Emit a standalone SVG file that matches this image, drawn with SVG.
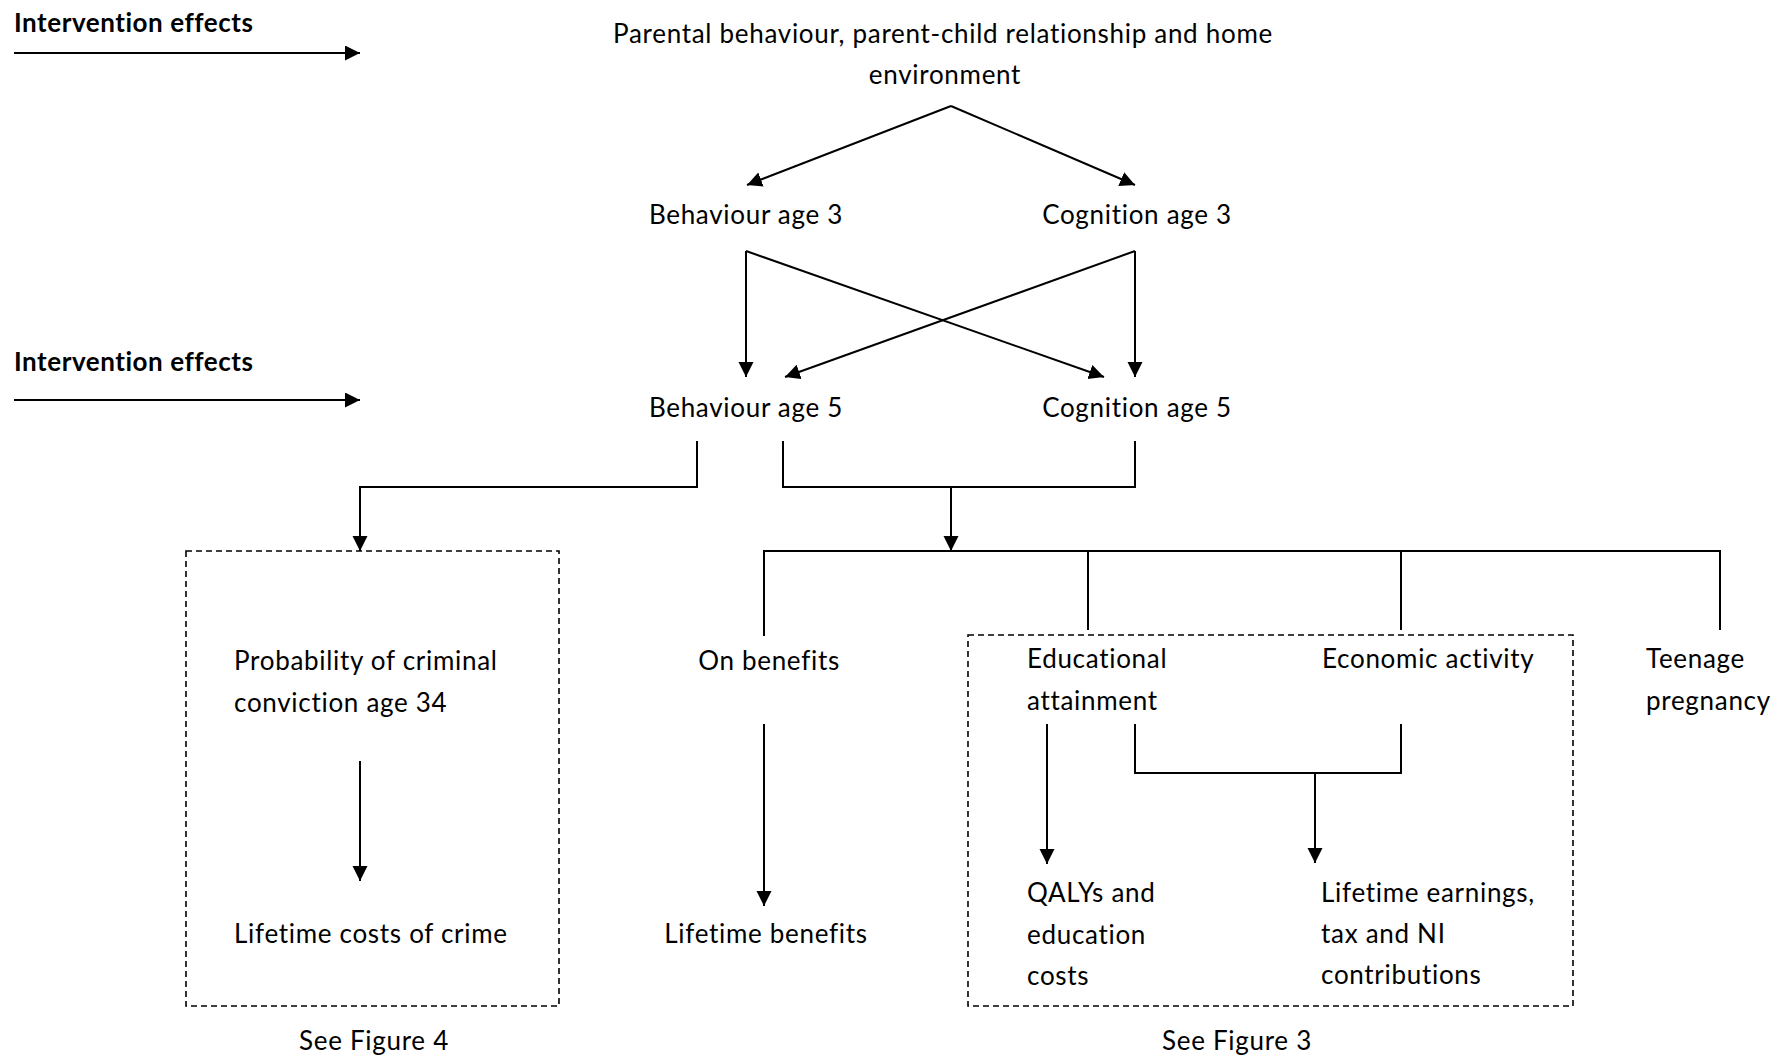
<svg xmlns="http://www.w3.org/2000/svg" width="1775" height="1058" viewBox="0 0 1775 1058">
<style>
  text { font-family: Lato, "Open Sans", "Liberation Sans", sans-serif; font-size: 26px; letter-spacing: 0.7px; fill: #000; }
  .b { font-weight: bold; letter-spacing: 0.55px; }
  .m { text-anchor: middle; }
  .ln { stroke: #000; stroke-width: 2; fill: none; }
  .dash { stroke: #000; stroke-width: 1.6; fill: none; stroke-dasharray: 6 4; }
</style>
<defs>
  <marker id="ah" markerUnits="userSpaceOnUse" markerWidth="16" markerHeight="16" refX="15" refY="7.5" orient="auto">
    <path d="M0,0 L15,7.5 L0,15 Z" fill="#000"/>
  </marker>
</defs>
<rect width="1775" height="1058" fill="#fff"/>

<g id="connectors">
  <line class="ln" x1="14" y1="53" x2="360" y2="53" marker-end="url(#ah)"/>
  <line class="ln" x1="14" y1="400" x2="360" y2="400" marker-end="url(#ah)"/>
  <line class="ln" x1="951" y1="106" x2="747" y2="185" marker-end="url(#ah)"/>
  <line class="ln" x1="951" y1="106" x2="1135" y2="185" marker-end="url(#ah)"/>
  <line class="ln" x1="746" y1="251" x2="746" y2="377" marker-end="url(#ah)"/>
  <line class="ln" x1="746" y1="251" x2="1104" y2="377" marker-end="url(#ah)"/>
  <line class="ln" x1="1135" y1="251" x2="1135" y2="377" marker-end="url(#ah)"/>
  <line class="ln" x1="1135" y1="251" x2="785" y2="377" marker-end="url(#ah)"/>
  <polyline class="ln" points="697,441 697,487 360,487 360,551" marker-end="url(#ah)"/>
  <polyline class="ln" points="783,441 783,487 1135,487 1135,441"/>
  <line class="ln" x1="951" y1="487" x2="951" y2="551" marker-end="url(#ah)"/>
  <polyline class="ln" points="764,636 764,551 1720,551 1720,630"/>
  <line class="ln" x1="1088" y1="551" x2="1088" y2="630"/>
  <line class="ln" x1="1401" y1="551" x2="1401" y2="630"/>
  <line class="ln" x1="360" y1="761" x2="360" y2="881" marker-end="url(#ah)"/>
  <line class="ln" x1="764" y1="724" x2="764" y2="906" marker-end="url(#ah)"/>
  <line class="ln" x1="1047" y1="724" x2="1047" y2="864" marker-end="url(#ah)"/>
  <polyline class="ln" points="1135,724 1135,773 1401,773 1401,724"/>
  <line class="ln" x1="1315" y1="773" x2="1315" y2="863" marker-end="url(#ah)"/>
</g>

<g id="intervention-1"><text class="b" x="14" y="32">Intervention effects</text></g>
<g id="intervention-2"><text class="b" x="14" y="371">Intervention effects</text></g>

<g id="parental">
  <text class="m" x="943" y="43">Parental behaviour, parent-child relationship and home</text>
  <text class="m" x="945" y="84">environment</text>
</g>
<g id="behaviour3"><text class="m" x="746" y="224">Behaviour age 3</text></g>
<g id="cognition3"><text class="m" x="1137" y="224">Cognition age 3</text></g>
<g id="behaviour5"><text class="m" x="746" y="417">Behaviour age 5</text></g>
<g id="cognition5"><text class="m" x="1137" y="417">Cognition age 5</text></g>

<g id="crime-box">
  <rect class="dash" x="186" y="551" width="373" height="455"/>
  <text x="234" y="670">Probability of criminal</text>
  <text x="234" y="712">conviction age 34</text>
  <text x="234" y="943">Lifetime costs of crime</text>
  <text class="m" x="374" y="1050">See Figure 4</text>
</g>

<g id="benefits">
  <text class="m" x="769" y="670">On benefits</text>
  <text class="m" x="766" y="943">Lifetime benefits</text>
</g>

<g id="education-box">
  <rect class="dash" x="968" y="635" width="605" height="371"/>
  <text x="1027" y="668">Educational</text>
  <text x="1027" y="710">attainment</text>
  <text x="1322" y="668">Economic activity</text>
  <text x="1027" y="902">QALYs and</text>
  <text x="1027" y="944">education</text>
  <text x="1027" y="985">costs</text>
  <text x="1321" y="902">Lifetime earnings,</text>
  <text x="1321" y="943">tax and NI</text>
  <text x="1321" y="984">contributions</text>
  <text class="m" x="1237" y="1050">See Figure 3</text>
</g>

<g id="teenage">
  <text x="1646" y="668">Teenage</text>
  <text x="1646" y="710">pregnancy</text>
</g>
</svg>
